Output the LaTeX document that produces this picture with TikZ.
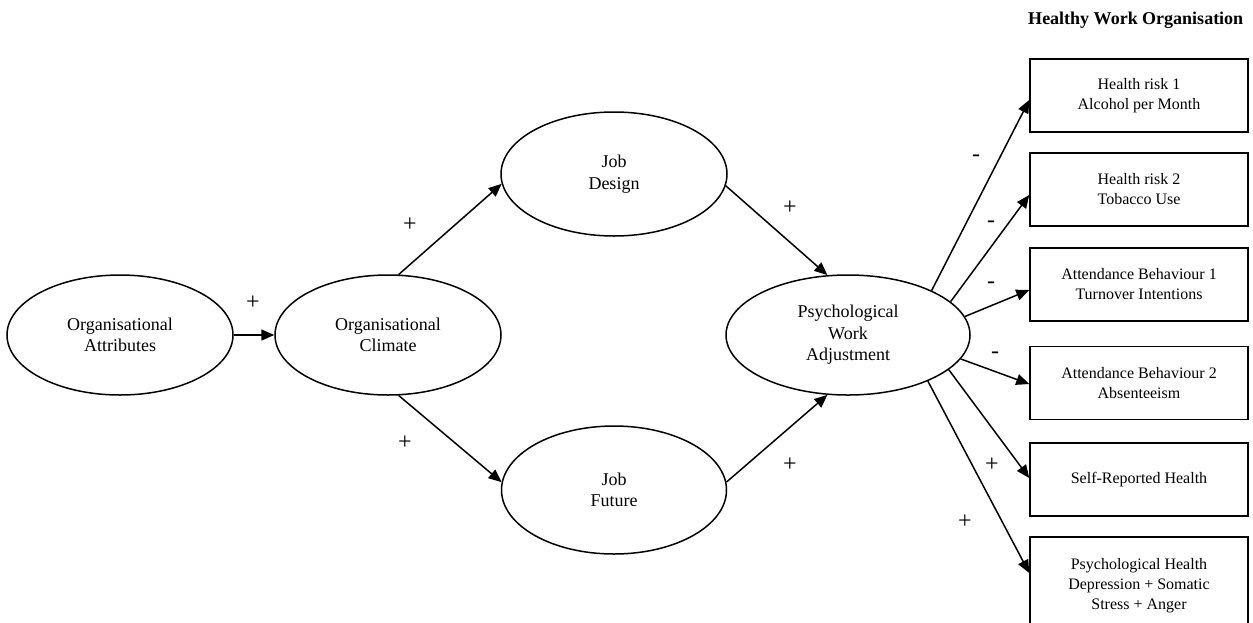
\documentclass[tikz,border=0pt]{standalone}
\usepackage{fontspec}
\setmainfont{Liberation Serif}
\usetikzlibrary{arrows.meta,shapes.geometric}

\begin{document}
\begin{tikzpicture}[x=0.5pt,y=-0.5pt,
  line width=0.75pt,
  construct/.style={draw, ellipse, inner sep=0pt, align=center,
    font=\fontsize{9}{10.8}\selectfont},
  outcome/.style={draw, rectangle, inner sep=0pt, minimum width=109pt,
    minimum height=36.5pt, align=center, font=\fontsize{8}{10}\selectfont},
  link/.style={-{Triangle[length=6.5pt,width=5.5pt]}},
  sign/.style={font=\fontsize{12}{14}\selectfont, inner sep=0pt}]

\useasboundingbox (0,0) rectangle (1253,622);

% latent constructs
\node[construct, minimum width=113pt, minimum height=60pt] (oa) at (120,335) {Organisational\\Attributes};
\node[construct, minimum width=113pt, minimum height=60pt] (oc) at (388,335) {Organisational\\Climate};
\node[construct, minimum width=113pt, minimum height=62pt] (jd) at (614,174) {Job\\Design};
\node[construct, minimum width=112.5pt, minimum height=64pt] (jf) at (614,490) {Job\\Future};
\node[construct, minimum width=122pt, minimum height=60pt] (pwa) at (848,335) {Psychological\\Work\\Adjustment};

% outcome boxes
\node[font=\fontsize{9}{11}\selectfont\bfseries, anchor=east, inner sep=0pt] (title) at (1244,20) {Healthy Work Organisation};
\node[outcome] (b1) at (1139,95.5) {Health risk 1\\Alcohol per Month};
\node[outcome] (b2) at (1139,189.5) {Health risk 2\\Tobacco Use};
\node[outcome] (b3) at (1139,284.5) {Attendance Behaviour 1\\Turnover Intentions};
\node[outcome] (b4) at (1139,383) {Attendance Behaviour 2\\Absenteeism};
\node[outcome] (b5) at (1139,479.5) {Self-Reported Health};
\node[outcome, minimum height=49pt] (b6) at (1139,586) {Psychological Health\\Depression + Somatic\\Stress + Anger};

% paths between constructs
\draw[link] (oa.east) -- (oc.west);
\draw[link] (oc.80) -- (jd.185);
\draw[link] (oc.-80) -- (jf.176);
\draw[link] (jd.-6) -- (pwa.109);
\draw[link] (jf.4) -- (pwa.251);

% paths to outcomes
\draw[link] (pwa.28) -- ([yshift=-2.25pt]b1.west);
\draw[link] (pwa.18.6) -- ([yshift=-2.75pt]b2.west);
\draw[link] (pwa.9.5) -- ([yshift=-2.75pt]b3.west);
\draw[link] (pwa.-12.7) -- ([yshift=-0.5pt]b4.west);
\draw[link] (pwa.-19.3) -- ([yshift=0.75pt]b5.west);
\draw[link] (pwa.-30) -- ([yshift=6.5pt]b6.west);

% signs of the paths
\node[sign] (s1) at (253,303) {+};
\node[sign] (s2) at (410,225) {+};
\node[sign] (s3) at (405,443) {+};
\node[sign] (s4) at (790,208) {+};
\node[sign] (s5) at (790,465) {+};
\node[sign] (s6) at (976,158) {-};
\node[sign] (s7) at (991,224) {-};
\node[sign] (s8) at (991,285) {-};
\node[sign] (s9) at (995,355) {-};
\node[sign] (s10) at (992,465) {+};
\node[sign] (s11) at (965,522) {+};
\end{tikzpicture}
\end{document}
